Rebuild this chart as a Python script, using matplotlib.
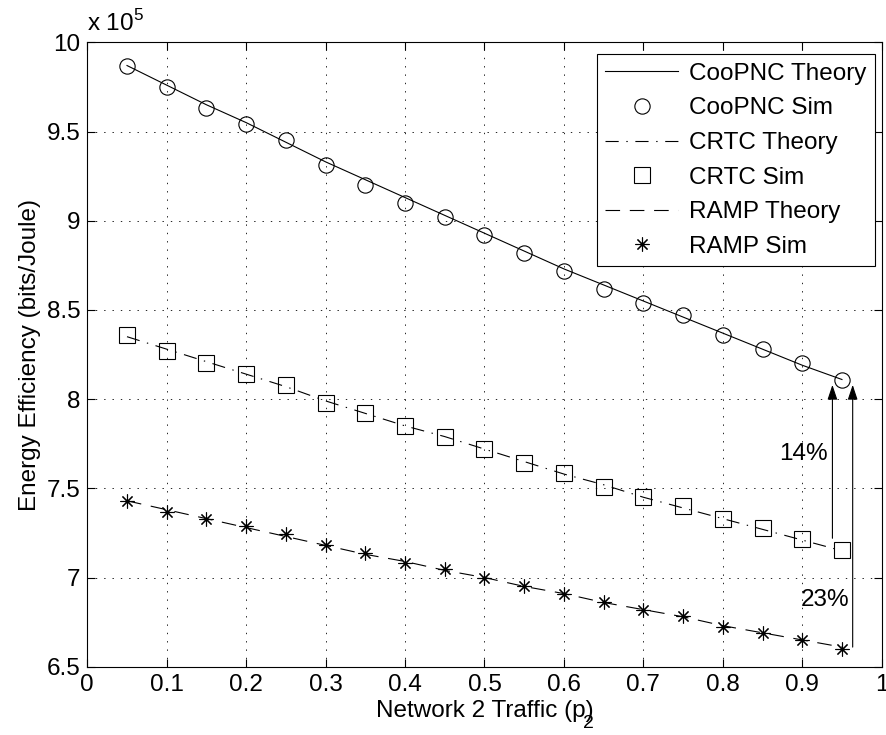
import numpy as np
import matplotlib
matplotlib.use('Agg')
import matplotlib.pyplot as plt

# datos (en unidades de 1e5 bits/Joule)
traffic = [0.05, 0.10, 0.15, 0.20, 0.25, 0.30, 0.35, 0.40, 0.45, 0.50,
           0.55, 0.60, 0.65, 0.70, 0.75, 0.80, 0.85, 0.90, 0.95]

coop_theory = [9.87, 9.76, 9.65, 9.55, 9.44, 9.33, 9.23, 9.13, 9.03, 8.93,
               8.83, 8.73, 8.64, 8.55, 8.46, 8.37, 8.28, 8.19, 8.11]
coop_sim = [9.87, 9.75, 9.63, 9.54, 9.45, 9.31, 9.20, 9.10, 9.02, 8.92,
            8.82, 8.72, 8.62, 8.54, 8.47, 8.36, 8.28, 8.20, 8.11]

crtc_theory = [8.35, 8.28, 8.21, 8.14, 8.07, 7.99, 7.92, 7.85, 7.79, 7.72,
               7.65, 7.58, 7.52, 7.45, 7.39, 7.33, 7.27, 7.21, 7.15]
crtc_sim = [8.36, 8.27, 8.20, 8.14, 8.08, 7.98, 7.92, 7.85, 7.79, 7.72,
            7.64, 7.585, 7.51, 7.45, 7.40, 7.33, 7.275, 7.215, 7.155]

ramp_theory = [7.43, 7.38, 7.33, 7.28, 7.23, 7.18, 7.13, 7.09, 7.04, 7.00,
               6.95, 6.91, 6.86, 6.82, 6.78, 6.73, 6.69, 6.65, 6.61]
ramp_sim = [7.43, 7.37, 7.33, 7.29, 7.245, 7.18, 7.135, 7.08, 7.05, 7.00,
            6.95, 6.91, 6.86, 6.82, 6.785, 6.725, 6.69, 6.65, 6.60]

xticks = [0, 0.1, 0.2, 0.3, 0.4, 0.5, 0.6, 0.7, 0.8, 0.9, 1]
yticks = [6.5, 7, 7.5, 8, 8.5, 9, 9.5, 10]

plt.rcParams['font.family'] = ['Liberation Sans', 'DejaVu Sans']
plt.rcParams['mathtext.fontset'] = 'custom'
plt.rcParams['mathtext.rm'] = 'Liberation Sans'
plt.rcParams['lines.scale_dashes'] = False
fs = 17.5

fig = plt.figure(figsize=(8.87, 7.35), dpi=100)
ax = fig.add_axes([0.0984, 0.0929, 0.8956, 0.8495])

lw = 0.8
ax.plot(traffic, coop_theory, color='k', lw=lw, ls='-', label='CooPNC Theory')
ax.plot(traffic, coop_sim, ls='none', marker='o', ms=11, mfc='none', mec='k',
        mew=0.8, label='CooPNC Sim')
ax.plot(traffic, crtc_theory, color='k', lw=lw, ls=(0, (9.5, 5.5, 1, 5.5)),
        label='CRTC Theory')
ax.plot(traffic, crtc_sim, ls='none', marker='s', ms=11, mfc='none', mec='k',
        mew=0.8, label='CRTC Sim')
ax.plot(traffic, ramp_theory, color='k', lw=lw, ls=(0, (10.5, 7)),
        label='RAMP Theory')
ax.plot(traffic, ramp_sim, ls='none', marker=(8, 2, 0), ms=10, mec='k',
        mew=0.8, label='RAMP Sim')

# flechas 14% y 23%
arr = dict(arrowstyle='-|>,head_length=0.9,head_width=0.3', color='k',
           lw=0.8, shrinkA=0, shrinkB=0)
ax.annotate('', xy=(0.938, 8.08), xytext=(0.938, 7.22), arrowprops=arr)
ax.annotate('', xy=(0.9635, 8.08), xytext=(0.9635, 6.61), arrowprops=arr)
ax.text(0.902, 7.69, '14%', fontsize=fs, ha='center', va='center')
ax.text(0.929, 6.875, '23%', fontsize=fs, ha='center', va='center')

ax.set_xlim(0, 1)
ax.set_ylim(6.5, 10)
ax.set_xticks(xticks)
ax.set_xticklabels(['%g' % t for t in xticks])
ax.set_yticks(yticks)
ax.set_yticklabels(['%g' % t for t in yticks])
ax.tick_params(direction='in', top=True, right=True, length=6, width=0.8,
               labelsize=fs, pad=5)
for s in ax.spines.values():
    s.set_linewidth(0.8)
ax.grid(True, color='k', ls=(0, (1, 5)), lw=0.6)

ax.set_ylabel('Energy Efficiency (bits/Joule)', fontsize=fs, labelpad=4)
ax.set_xlabel('Network 2 Traffic (p)', fontsize=fs, labelpad=3)
fig.text(0.657, 0.009, '2', fontsize=14, va='baseline')
fig.text(0.098, 0.958, r'x 10$^5$', fontsize=fs)

leg = ax.legend(loc='upper right', bbox_to_anchor=(0.9916, 0.981),
                borderaxespad=0, fontsize=fs, numpoints=1, handlelength=3.0,
                handletextpad=0.45, labelspacing=0.52, borderpad=0.35,
                fancybox=False, framealpha=1, edgecolor='k')
leg.get_frame().set_linewidth(0.8)

fig.savefig('out.png', dpi=100)
